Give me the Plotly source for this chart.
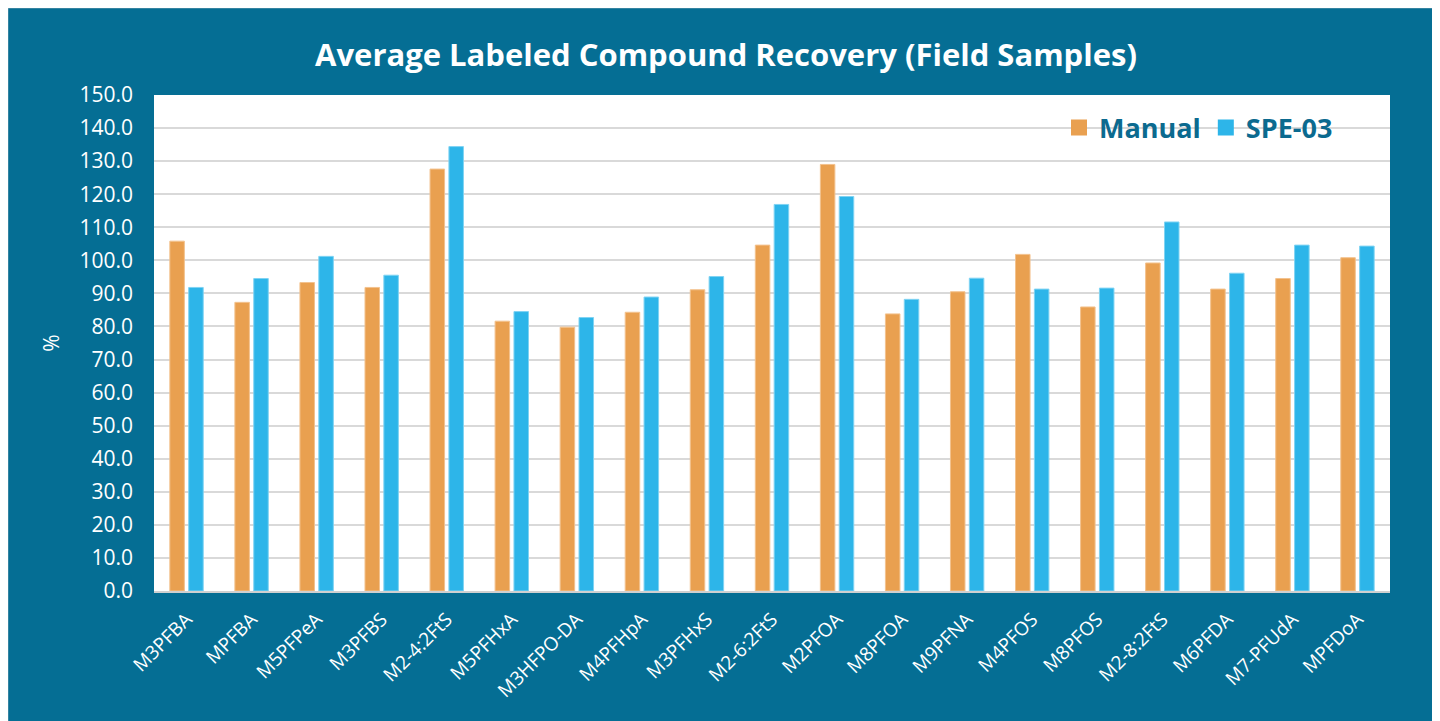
import plotly.graph_objects as go

categories = ["M3PFBA", "MPFBA", "M5PFPeA", "M3PFBS", "M2-4:2FtS", "M5PFHxA", "M3HFPO-DA",
              "M4PFHpA", "M3PFHxS", "M2-6:2FtS", "M2PFOA", "M8PFOA", "M9PFNA", "M4PFOS",
              "M8PFOS", "M2-8:2FtS", "M6PFDA", "M7-PFUdA", "MPFDoA"]
manual = [105.8, 87.3, 93.3, 91.8, 127.6, 81.6, 79.8, 84.3, 91.1, 104.6, 129.0, 83.8, 90.5,
          101.8, 85.9, 99.2, 91.3, 94.5, 100.8]
spe03 = [91.8, 94.5, 101.2, 95.5, 134.4, 84.5, 82.7, 88.9, 95.1, 116.9, 119.3, 88.2, 94.6,
         91.3, 91.6, 111.6, 96.1, 104.6, 104.3]
y_ticks = [i * 10 for i in range(16)]
y_tick_labels = [f"{v:.1f}" for v in y_ticks]

TEAL = "#056E94"
ORANGE = "#E9A050"
BLUE = "#2DB5E9"
FONT = "Open Sans"

fig = go.Figure()
fig.add_trace(go.Bar(x=categories, y=manual, name="Manual", showlegend=False,
                     marker=dict(color=ORANGE, line=dict(color="#F3C28E", width=1))))
fig.add_trace(go.Bar(x=categories, y=spe03, name="SPE-03", showlegend=False,
                     marker=dict(color=BLUE, line=dict(color="#7FD3F3", width=1))))
# legend entries (square swatches)
fig.add_trace(go.Scatter(x=[None], y=[None], mode="markers", name="Manual",
                         marker=dict(symbol="square", size=16, color=ORANGE)))
fig.add_trace(go.Scatter(x=[None], y=[None], mode="markers", name="SPE-03",
                         marker=dict(symbol="square", size=16, color=BLUE)))

# page is offset by the 8px body margin
OFF = 8
W, H = 1425, 713
L, R, T, B = 154 - OFF, 1433 - 1390, 95 - OFF, 130
pw, ph = W - L - R, H - T - B

def px_x(p):
    return (p - OFF - L) / pw

def px_y(p):
    return (H - B - (p - OFF)) / ph

fig.update_layout(
    width=W, height=H,
    margin=dict(l=L, r=R, t=T, b=B, autoexpand=False),
    paper_bgcolor=TEAL,
    plot_bgcolor="white",
    barmode="group",
    bargap=0.42,
    bargroupgap=0.23,
    title=dict(text="<b>Average Labeled Compound Recovery (Field Samples)</b>",
               x=(726 - OFF) / W, xanchor="center", y=1 - (55 - OFF) / H, yanchor="middle",
               font=dict(family=FONT, size=31, color="white")),
    font=dict(family=FONT, color="white"),
    legend=dict(orientation="h", x=px_x(1338), xanchor="right", y=px_y(128), yanchor="middle",
                font=dict(family=FONT, size=27, color="#0B6A8F", weight="bold"),
                bgcolor="rgba(0,0,0,0)", traceorder="normal", itemwidth=30),
    xaxis=dict(tickangle=-45, tickfont=dict(size=19, color="white"), showgrid=False,
               showline=True, linecolor="#D0D0D0", linewidth=1.5, ticks="",
               ticklabelstandoff=8),
    yaxis=dict(range=[0, 150], tickvals=y_ticks, ticktext=y_tick_labels,
               tickfont=dict(size=21, color="white"), showgrid=True, gridcolor="#D9D9D9",
               gridwidth=1.5, zeroline=False, ticks="", ticklabelstandoff=20,
               title=dict(text="%", font=dict(size=21, color="white"), standoff=14)),
    shapes=[dict(type="rect", xref="paper", yref="paper", layer="above",
                 x0=px_x(OFF - 0.5), x1=px_x(1433.5), y0=px_y(OFF - 0.5), y1=px_y(730),
                 fillcolor="rgba(0,0,0,0)", line=dict(color="#C8C8C8", width=1.5))],
)

fig.write_html("out.html")
